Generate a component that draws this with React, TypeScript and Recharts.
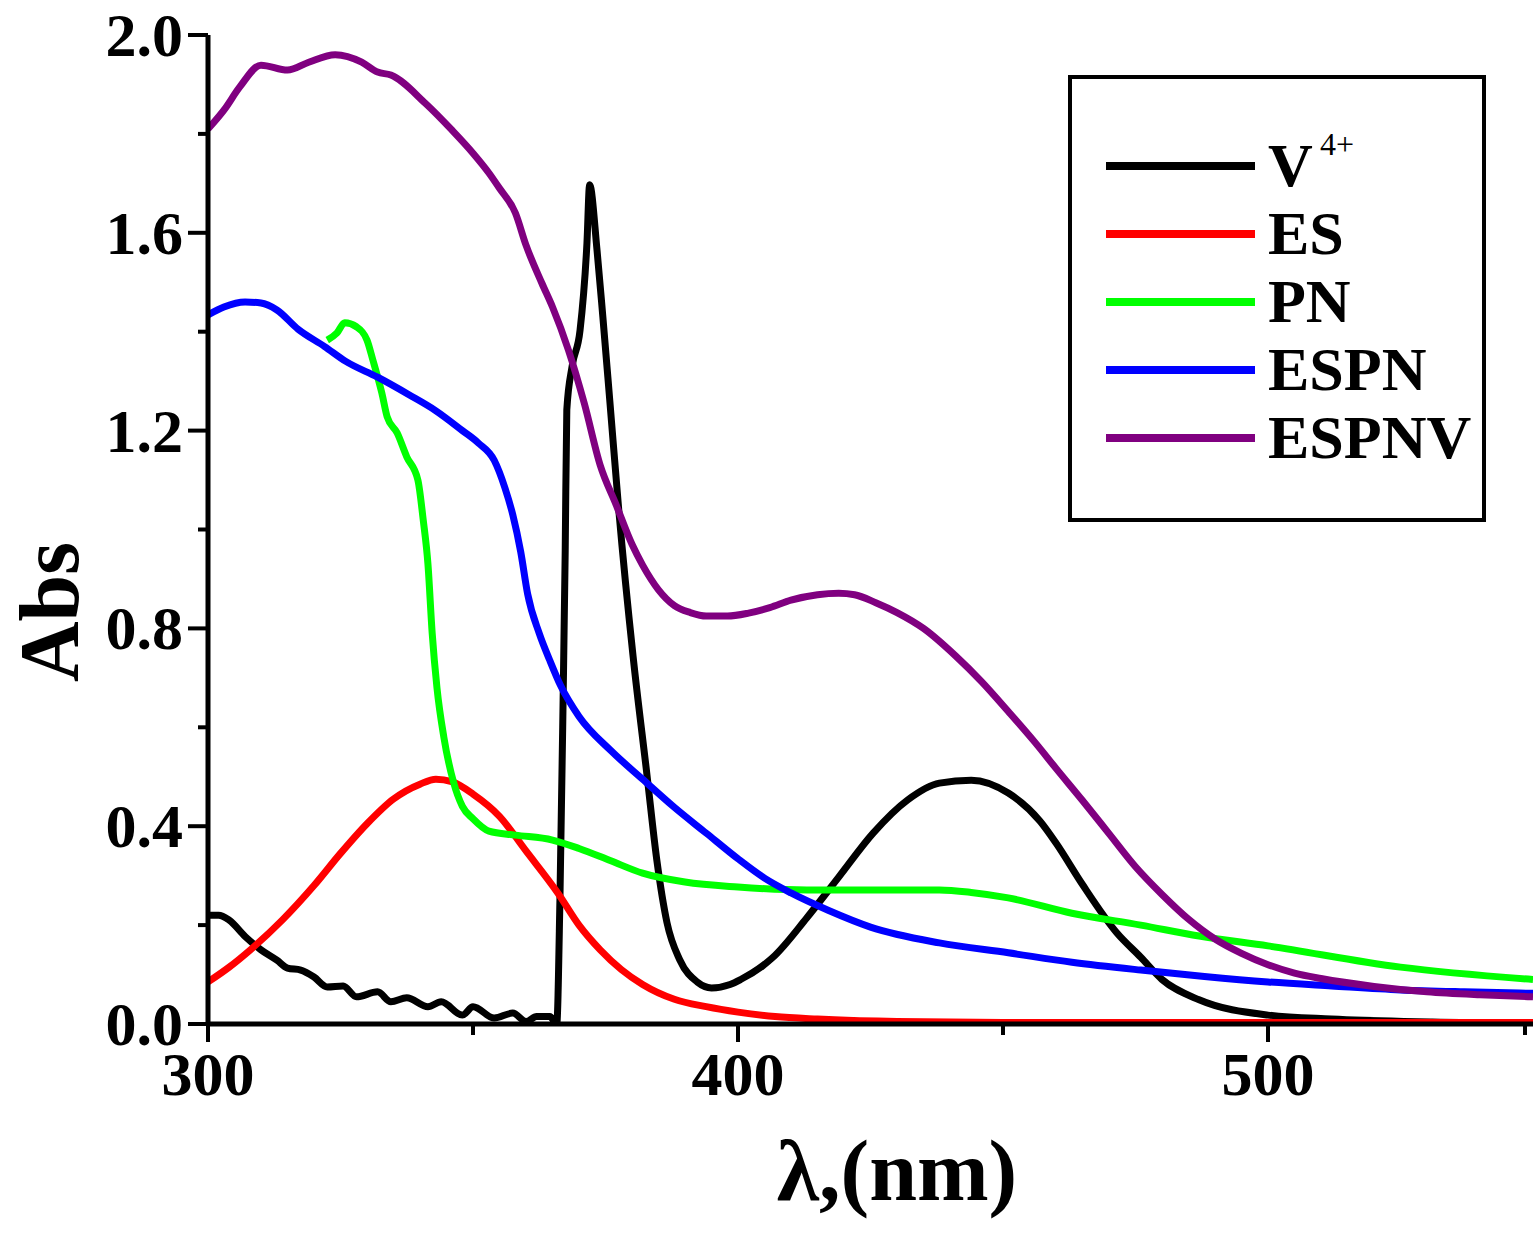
import React from 'react';
import { LineChart, Line, XAxis, YAxis } from 'recharts';

const FONT = '"Liberation Serif", "Times New Roman", serif';

// wavelength (nm) / absorbance
const vWl = [300, 302, 304, 307, 310, 313, 315, 317.5, 320, 322.5, 325.5, 328, 332, 334.5, 337.5, 341.5, 344, 348, 350, 354, 357.5, 360, 362, 364.5, 365.8, 366.4, 367, 367.4, 367.7, 368.7, 370.2, 371.5, 372, 373.4, 374.5, 375.8, 377.5, 380.2, 382.8, 384.7, 386.6, 389, 392.3, 395, 398.5, 400.5, 404.7, 406.6, 413, 419, 425.5, 432, 438, 444, 451, 457, 460, 465, 471.5, 476, 480, 487, 500, 512, 531, 550];
const vAbs = [0.22, 0.22, 0.21, 0.177, 0.15, 0.129, 0.113, 0.109, 0.095, 0.075, 0.077, 0.055, 0.065, 0.045, 0.053, 0.035, 0.045, 0.018, 0.035, 0.012, 0.022, 0.005, 0.015, 0.015, 0.0, 0.25, 0.655, 0.958, 1.242, 1.33, 1.403, 1.579, 1.697, 1.565, 1.43, 1.262, 1.04, 0.744, 0.506, 0.33, 0.205, 0.13, 0.085, 0.073, 0.08, 0.09, 0.118, 0.135, 0.215, 0.297, 0.386, 0.453, 0.487, 0.493, 0.467, 0.41, 0.366, 0.282, 0.184, 0.135, 0.09, 0.049, 0.018, 0.01, 0.004, 0.002];

const esWl = [300, 304, 308, 314, 320, 325, 330, 335, 340, 343, 346, 350, 355, 360, 366, 370, 374, 378, 382, 388, 394, 400, 407, 415, 430, 450, 500, 550];
const esAbs = [0.085, 0.115, 0.15, 0.21, 0.28, 0.345, 0.405, 0.455, 0.485, 0.495, 0.49, 0.465, 0.42, 0.35, 0.265, 0.2, 0.15, 0.11, 0.08, 0.05, 0.035, 0.024, 0.015, 0.01, 0.005, 0.003, 0.003, 0.003];

const pnWl = [322.5, 324.3, 325.8, 328, 330, 331.1, 332.8, 333.8, 335.7, 337.5, 339.6, 340.6, 341.5, 342.3, 343.2, 344.5, 346.3, 348, 350, 353, 358, 365, 370, 376, 382, 390, 400, 413, 425, 438, 444, 451, 463, 476, 487, 500, 525, 550];
const pnAbs = [1.383, 1.397, 1.418, 1.41, 1.383, 1.343, 1.276, 1.228, 1.195, 1.147, 1.1, 1.02, 0.93, 0.79, 0.68, 0.58, 0.49, 0.44, 0.415, 0.39, 0.382, 0.372, 0.355, 0.33, 0.305, 0.287, 0.277, 0.271, 0.271, 0.271, 0.266, 0.255, 0.224, 0.2, 0.178, 0.158, 0.115, 0.09];

const espnWl = [300, 303, 307, 310, 313, 317, 322, 326, 332, 338, 343, 348, 351, 354, 356, 357.5, 359, 360.3, 362.5, 364.5, 366.5, 370, 376, 382, 388, 394, 400, 405, 410, 417, 425, 438, 451, 463, 476, 488, 500, 512, 525, 537, 550];
const espnAbs = [1.434, 1.45, 1.46, 1.458, 1.444, 1.405, 1.37, 1.34, 1.308, 1.272, 1.24, 1.2, 1.175, 1.14, 1.085, 1.03, 0.955, 0.87, 0.79, 0.735, 0.685, 0.622, 0.553, 0.495, 0.438, 0.386, 0.334, 0.295, 0.265, 0.23, 0.196, 0.164, 0.144, 0.125, 0.109, 0.096, 0.085, 0.077, 0.069, 0.065, 0.062];

const espnvWl = [300, 303, 306, 310, 315, 319, 324, 329, 332, 334.5, 341, 346, 350, 353, 355, 358, 360, 363, 365, 368, 371, 374, 377, 380, 382, 385, 388, 391, 394, 398, 402, 406, 410, 415, 419, 422, 426, 430, 435, 441, 446, 451, 456, 460, 465, 470, 475, 480, 485, 490, 495, 500, 505, 510, 520, 530, 540, 550];
const espnvAbs = [1.81, 1.848, 1.895, 1.939, 1.929, 1.945, 1.96, 1.945, 1.925, 1.919, 1.862, 1.808, 1.761, 1.721, 1.69, 1.64, 1.575, 1.498, 1.45, 1.363, 1.255, 1.13, 1.05, 0.97, 0.928, 0.878, 0.846, 0.832, 0.825, 0.825, 0.831, 0.842, 0.857, 0.868, 0.871, 0.868, 0.852, 0.832, 0.8, 0.745, 0.692, 0.632, 0.57, 0.517, 0.452, 0.385, 0.318, 0.262, 0.212, 0.172, 0.143, 0.12, 0.103, 0.092, 0.076, 0.065, 0.059, 0.055];

const xTicks = [300, 350, 400, 450, 500, 550];
const yTicks = [0, 0.2, 0.4, 0.6, 0.8, 1, 1.2, 1.4, 1.6, 1.8, 2];

const rows = (xs: number[], ys: number[]) => xs.map((x, i) => ({ x, y: ys[i] }));

const series = [
  { key: 'v4', name: 'V', sup: '4+', color: '#000000', data: rows(vWl, vAbs) },
  { key: 'es', name: 'ES', color: '#FF0000', data: rows(esWl, esAbs) },
  { key: 'pn', name: 'PN', color: '#00FF00', data: rows(pnWl, pnAbs) },
  { key: 'espn', name: 'ESPN', color: '#0000FF', data: rows(espnWl, espnAbs) },
  { key: 'espnv', name: 'ESPNV', color: '#800080', data: rows(espnvWl, espnvAbs) },
];

const XTick = (p: any) => {
  const major = p.payload.value % 100 === 0;
  return (
    <g>
      <line x1={p.x} x2={p.x} y1={p.y} y2={p.y + (major ? 18 : 11)} stroke="#000" strokeWidth={4} />
      {major && (
        <text x={p.x} y={p.y + 71} textAnchor="middle" fontFamily={FONT} fontWeight="bold" fontSize={62} fill="#000">
          {p.payload.value}
        </text>
      )}
    </g>
  );
};

const YTick = (p: any) => {
  const major = Math.round(p.payload.value * 10) % 4 === 0;
  return (
    <g>
      <line x1={p.x} x2={p.x - (major ? 20 : 10)} y1={p.y} y2={p.y} stroke="#000" strokeWidth={4} />
      {major && (
        <text x={p.x - 25} y={p.y + 21} textAnchor="end" fontFamily={FONT} fontWeight="bold" fontSize={62} fill="#000">
          {p.payload.value.toFixed(1)}
        </text>
      )}
    </g>
  );
};

function LegendBox() {
  return (
    <svg width={1537} height={1242} style={{ position: 'absolute', left: 0, top: 0, pointerEvents: 'none' }}>
      <rect x={1070} y={77} width={414} height={443} fill="none" stroke="#000" strokeWidth={4} />
      {series.map((s, i) => {
        const y = 166 + i * 68;
        return (
          <g key={s.key}>
            <line x1={1106} x2={1255} y1={y} y2={y} stroke={s.color} strokeWidth={8} />
            <text x={1268} y={y + 20} fontFamily={FONT} fontWeight="bold" fontSize={62} fill="#000">
              {s.name}
            </text>
            {s.sup && (
              <text x={1320} y={y - 11} fontFamily={FONT} fontSize={32} fill="#000">
                {s.sup}
              </text>
            )}
          </g>
        );
      })}
    </svg>
  );
}

export default function App() {
  return (
    <div style={{ position: 'absolute', left: 0, top: 0, width: 1537, height: 1242, background: '#fff' }}>
      <LineChart width={1537} height={1242} margin={{ top: 35, right: 4, bottom: 0, left: 0 }}>
        <XAxis
          dataKey="x"
          type="number"
          domain={[300, 550]}
          ticks={xTicks}
          allowDataOverflow
          height={218}
          tickLine={false}
          tickSize={0}
          tickMargin={0}
          tick={XTick}
          axisLine={{ stroke: '#000', strokeWidth: 5 }}
          label={{
            content: () => (
              <text x={897} y={1200} textAnchor="middle" fontFamily={FONT} fontWeight="bold" fontSize={86} fill="#000">
                λ,(nm)
              </text>
            ),
          }}
        />
        <XAxis xAxisId="top" dataKey="x" type="number" domain={[300, 550]} orientation="top" height={0} tick={false} tickLine={false} axisLine={{ stroke: '#000', strokeWidth: 5 }} />
        <YAxis
          type="number"
          domain={[0, 2]}
          ticks={yTicks}
          allowDataOverflow
          width={208}
          tickLine={false}
          tickSize={0}
          tickMargin={0}
          tick={YTick}
          axisLine={{ stroke: '#000', strokeWidth: 5 }}
          label={{
            content: () => (
              <text x={78} y={612} transform="rotate(-90, 78, 612)" textAnchor="middle" fontFamily={FONT} fontWeight="bold" fontSize={84} fill="#000">
                Abs
              </text>
            ),
          }}
        />
        <YAxis yAxisId="right" orientation="right" type="number" domain={[0, 2]} width={0} tick={false} tickLine={false} axisLine={{ stroke: '#000', strokeWidth: 5 }} />
        {series.map((s) => (
          <Line
            key={s.key}
            data={s.data}
            dataKey="y"
            name={s.name}
            type="monotone"
            stroke={s.color}
            strokeWidth={7}
            dot={false}
            activeDot={false}
            isAnimationActive={false}
          />
        ))}
      </LineChart>
      <LegendBox />
    </div>
  );
}
